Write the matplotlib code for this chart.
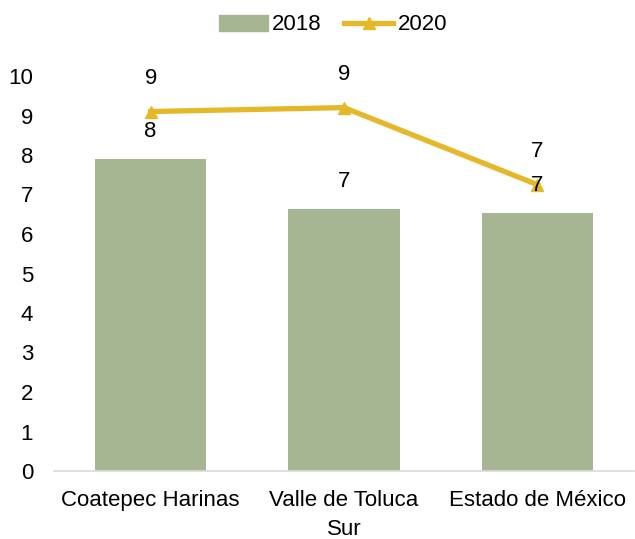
import matplotlib.pyplot as plt
import numpy as np
from matplotlib.patches import Patch
from matplotlib.lines import Line2D

plt.rcParams['font.family'] = ['Liberation Sans', 'DejaVu Sans']

categories = ['Coatepec Harinas', 'Valle de Toluca\nSur', 'Estado de México']
vals_2018 = [7.9, 6.63, 6.53]
vals_2020 = [9.1, 9.2, 7.25]
labels_2018 = ['8', '7', '7']
labels_2020 = ['9', '9', '7']
yticks = list(range(0, 11))

green = '#A6B592'
gold = '#E5B82A'

fig = plt.figure(figsize=(6.35, 5.39), dpi=100)
ax = fig.add_axes([54/635, 68/539, 580/635, 395/539])

x = np.arange(len(categories))
ax.bar(x, vals_2018, width=0.575, color=green, zorder=2)
ax.plot(x, vals_2020, color=gold, lw=3.8, marker='^', ms=8, zorder=3)

for xi, v, t in zip(x, vals_2018, labels_2018):
    ax.annotate(t, (xi, v), xytext=(0, 20), textcoords='offset points',
                ha='center', va='center', fontsize=16)
for xi, v, t in zip(x, vals_2020, labels_2020):
    ax.annotate(t, (xi, v), xytext=(0, 24), textcoords='offset points',
                ha='center', va='center', fontsize=16)

ax.set_xlim(-0.5, 2.5)
ax.set_ylim(0, 10)
ax.set_yticks(yticks)
ax.set_xticks(x)
ax.set_xticklabels(categories, fontsize=16, linespacing=1.5)
ax.tick_params(axis='both', length=0, labelsize=16)
ax.tick_params(axis='x', pad=14)
ax.tick_params(axis='y', pad=15)
for s in ['top', 'right', 'left']:
    ax.spines[s].set_visible(False)
ax.spines['bottom'].set_color('#D9D9D9')
ax.spines['bottom'].set_linewidth(1.2)

handles = [Patch(color=green), Line2D([], [], color=gold, lw=3.8, marker='^', ms=8)]
fig.legend(handles, ['2018', '2020'], loc='center', bbox_to_anchor=(333/635, 1 - 25/539),
           ncol=2, frameon=False, fontsize=16, handlelength=2.2, handletextpad=0.2,
           columnspacing=1.0)

fig.savefig('out.png', dpi=100)
